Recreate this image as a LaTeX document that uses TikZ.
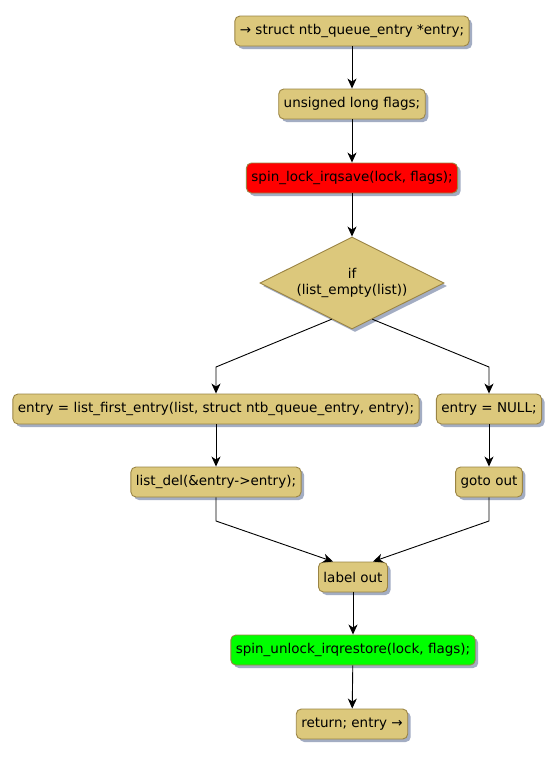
\documentclass[tikz,border=0pt]{standalone}
\usepackage{fontspec}
\setmainfont{DejaVu Sans}
\usetikzlibrary{shapes.geometric, arrows.meta, shadows, calc}
\definecolor{box-fill}{HTML}{DCC87C}
\definecolor{box-line}{HTML}{9A8444}
\definecolor{box-shade}{HTML}{8C98B4}
\definecolor{lock-red}{HTML}{FF0000}
\definecolor{unlock-green}{HTML}{00FF00}

\begin{document}
\begin{tikzpicture}[x=1pt, y=-1pt,
        every node/.style={font=\fontsize{13.5pt}{16pt}\selectfont},
        stmt/.style={rectangle, rounded corners=5pt, draw=box-line, fill=box-fill,
          line width=0.9pt, minimum height=30pt, inner xsep=5pt, inner ysep=0pt,
          drop shadow={shadow xshift=3pt, shadow yshift=-3pt, fill=box-shade, opacity=0.8}},
        cond/.style={diamond, draw=box-line, fill=box-fill, aspect=2, inner sep=0pt,
          line width=0.9pt, minimum width=184pt, minimum height=92pt, align=center,
          drop shadow={shadow xshift=3pt, shadow yshift=-3pt, fill=box-shade, opacity=0.8}},
        flow/.style={-{Stealth[length=10pt, width=9pt, inset=3pt]}, black, line width=0.9pt}]
      \useasboundingbox (0,0) rectangle (559,758);
      \node[stmt] (decl) at (352,31) {→ struct ntb\_queue\_entry *entry;};
      \node[stmt] (flags) at (352,104) {unsigned long flags;};
      \node[stmt, fill=lock-red] (lock) at (352,178) {spin\_lock\_irqsave(lock, flags);};
      \node[cond] (empty) at (352,283) {if\\(list\_empty(list))};
      \node[stmt] (first) at (216,409) {entry = list\_first\_entry(list, struct ntb\_queue\_entry, entry);};
      \node[stmt] (null) at (489,409) {entry = NULL;};
      \node[stmt] (del) at (216,482) {list\_del(\&entry->entry);};
      \node[stmt] (goto) at (489,482) {goto out};
      \node[stmt] (out) at (353,577) {label out};
      \node[stmt, fill=unlock-green] (unlock) at (353,650) {spin\_unlock\_irqrestore(lock, flags);};
      \node[stmt] (ret) at (352,724) {return; entry →};
      % branch and merge bends
      \coordinate (yes-bend) at (216,367);
      \coordinate (no-bend) at (489,367);
      \coordinate (del-bend) at (216,521);
      \coordinate (goto-bend) at (489,521);
      \draw[flow] (decl) -- (flags);
      \draw[flow] (flags) -- (lock);
      \draw[flow] (lock) -- (empty);
      \draw[flow] ($(empty.west)!0.78!(empty.south)$) -- (yes-bend) -- (first.north);
      \draw[flow] ($(empty.east)!0.78!(empty.south)$) -- (no-bend) -- (null.north);
      \draw[flow] (first) -- (del);
      \draw[flow] (null) -- (goto);
      \draw[flow] (del.south) -- (del-bend) -- ($(out.north)+(-20,0)$);
      \draw[flow] (goto.south) -- (goto-bend) -- ($(out.north)+(20,0)$);
      \draw[flow] (out) -- (unlock);
      \draw[flow] (unlock) -- (ret);
    \end{tikzpicture}
\end{document}
